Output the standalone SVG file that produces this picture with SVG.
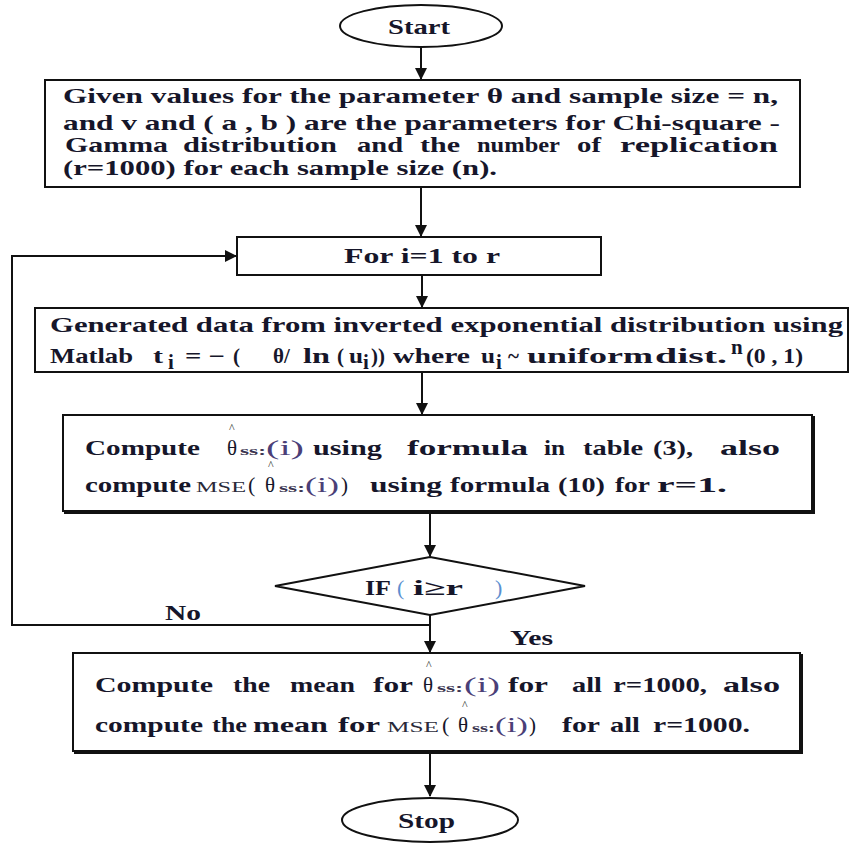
<svg xmlns="http://www.w3.org/2000/svg" width="852" height="845" viewBox="0 0 852 845">
<defs>
<style>
.t{font-family:"Liberation Serif","Times New Roman",serif;font-weight:bold;font-size:21px;fill:#16162a}
.n{font-family:"Liberation Serif","Times New Roman",serif;font-weight:normal;fill:#16162a}
.sub{font-family:"Liberation Serif",serif;font-weight:bold;font-size:13px;fill:#3a3550}
.pi{font-family:"Liberation Serif",serif;font-weight:normal;font-size:20px;fill:#4b3f78}
.hat{font-family:"Liberation Serif",serif;font-size:12px;fill:#333}
.msc{font-family:"Liberation Serif",serif;font-weight:normal;font-size:15px;fill:#2a2a3a}
.bl{font-family:"Liberation Serif",serif;font-weight:normal;font-size:22px;fill:#5b8fd0}
.box{fill:#fff;stroke:#111;stroke-width:2}
.ln{fill:none;stroke:#111;stroke-width:2}
</style>
<marker id="ah" markerUnits="userSpaceOnUse" markerWidth="12" markerHeight="12" refX="11" refY="6" orient="auto">
<path d="M0,0 L12,6 L0,12 z" fill="#111"/>
</marker>
</defs>

<g id="connectors">
<path class="ln" d="M421,47 V79" marker-end="url(#ah)"/>
<path class="ln" d="M421,187 V236" marker-end="url(#ah)"/>
<path class="ln" d="M422,275 V307" marker-end="url(#ah)"/>
<path class="ln" d="M422,372 V414" marker-end="url(#ah)"/>
<path class="ln" d="M430,511 V556" marker-end="url(#ah)"/>
<path class="ln" d="M430,615 V652" marker-end="url(#ah)"/>
<path class="ln" d="M430,625 H12 V256 H236" marker-end="url(#ah)"/>
<path class="ln" d="M430,751 V796" marker-end="url(#ah)"/>
<text class="t" x="165" y="620" textLength="36" lengthAdjust="spacingAndGlyphs">No</text>
<text class="t" x="510" y="645" textLength="43" lengthAdjust="spacingAndGlyphs">Yes</text>
</g>

<g id="start">
<ellipse class="box" cx="421" cy="26" rx="81" ry="21"/>
<text class="t" x="388" y="34" textLength="62" lengthAdjust="spacingAndGlyphs">Start</text>
</g>

<g id="init">
<rect class="box" x="45" y="80" width="755" height="107"/>
<text class="t" x="63" y="103" textLength="715" lengthAdjust="spacingAndGlyphs">Given values for the parameter θ  and sample size = n,</text>
<text class="t" x="63" y="130" textLength="717" lengthAdjust="spacingAndGlyphs">and v and ( a , b ) are the parameters for Chi-square -</text>
<text class="t" x="65" y="152" font-size="20" textLength="103" lengthAdjust="spacingAndGlyphs">Gamma</text>
<text class="t" x="183" y="152" font-size="20" textLength="154" lengthAdjust="spacingAndGlyphs">distribution</text>
<text class="t" x="357" y="152" font-size="20" textLength="46" lengthAdjust="spacingAndGlyphs">and</text>
<text class="t" x="420" y="152" font-size="20" textLength="40" lengthAdjust="spacingAndGlyphs">the</text>
<text class="t" x="477" y="152" font-size="20" textLength="83" lengthAdjust="spacingAndGlyphs">number</text>
<text class="t" x="577" y="152" font-size="20" textLength="24" lengthAdjust="spacingAndGlyphs">of</text>
<text class="t" x="620" y="152" font-size="20" textLength="158" lengthAdjust="spacingAndGlyphs">replication</text>
<text class="t" x="63" y="175" font-size="20" textLength="434" lengthAdjust="spacingAndGlyphs">(r=1000) for each sample size (n).</text>
</g>

<g id="loop">
<rect class="box" x="237" y="237" width="364" height="38"/>
<text class="t" x="344" y="263" textLength="156" lengthAdjust="spacingAndGlyphs">For i=1 to r</text>
</g>

<g id="generate">
<rect class="box" x="35" y="308" width="813" height="64"/>
<text class="t" x="50" y="332" textLength="793" lengthAdjust="spacingAndGlyphs">Generated data from inverted exponential distribution using</text>
<text class="t" x="50" y="363" textLength="83" lengthAdjust="spacingAndGlyphs">Matlab</text>
<text class="t" x="153" y="363" textLength="10" lengthAdjust="spacingAndGlyphs">t</text>
<text class="t" x="168" y="369" font-size="14">i</text>
<text class="t" x="185" y="363" textLength="40" lengthAdjust="spacingAndGlyphs">= −</text>
<text class="t" x="233" y="363">(</text>
<text class="t" x="273" y="363">θ/</text>
<text class="t" x="303" y="363" textLength="27" lengthAdjust="spacingAndGlyphs">ln</text>
<text class="t" x="337" y="363">(</text>
<text class="t" x="349" y="363" textLength="14" lengthAdjust="spacingAndGlyphs">u</text>
<text class="t" x="363" y="369" font-size="14">i</text>
<text class="t" x="371" y="363">))</text>
<text class="t" x="393" y="363" textLength="77" lengthAdjust="spacingAndGlyphs">where</text>
<text class="t" x="481" y="363" textLength="14" lengthAdjust="spacingAndGlyphs">u</text>
<text class="t" x="496" y="369" font-size="13">i</text>
<text class="t" x="508" y="363">~</text>
<text class="t" x="527" y="363" textLength="126" lengthAdjust="spacingAndGlyphs">uniform</text>
<text class="t" x="655" y="363" textLength="72" lengthAdjust="spacingAndGlyphs">dist.</text>
<text class="t" x="731" y="354" font-size="17">n</text>
<text class="t" x="746" y="363" textLength="57" lengthAdjust="spacingAndGlyphs">(0 , 1)</text>
</g>

<g id="compute">
<rect class="box" x="63" y="415" width="749" height="96"/>
<path class="ln" d="M814,416 V513 H64" stroke-width="1.5"/>
<text class="t" x="85" y="455" textLength="115" lengthAdjust="spacingAndGlyphs">Compute</text>
<text class="hat" x="229" y="432">^</text>
<text class="n" x="227" y="455" font-size="21">θ</text>
<text class="sub" x="240" y="455" textLength="26" lengthAdjust="spacingAndGlyphs">ss:</text>
<text class="pi" x="266" y="455" textLength="38" lengthAdjust="spacingAndGlyphs">(i)</text>
<text class="t" x="313" y="455" textLength="69" lengthAdjust="spacingAndGlyphs">using</text>
<text class="t" x="407" y="455" textLength="121" lengthAdjust="spacingAndGlyphs">formula</text>
<text class="t" x="544" y="455" textLength="21" lengthAdjust="spacingAndGlyphs">in</text>
<text class="t" x="583" y="455" textLength="60" lengthAdjust="spacingAndGlyphs">table</text>
<text class="t" x="653" y="455" textLength="40" lengthAdjust="spacingAndGlyphs">(3),</text>
<text class="t" x="720" y="455" textLength="60" lengthAdjust="spacingAndGlyphs">also</text>
<text class="t" x="85" y="492" textLength="106" lengthAdjust="spacingAndGlyphs">compute</text>
<text class="msc" x="196" y="492" textLength="50" lengthAdjust="spacingAndGlyphs">MSE</text>
<text class="n" x="248" y="492" font-size="22">(</text>
<text class="hat" x="268" y="469">^</text>
<text class="n" x="265" y="492" font-size="21">θ</text>
<text class="sub" x="279" y="492" textLength="26" lengthAdjust="spacingAndGlyphs">ss:</text>
<text class="pi" x="305" y="492" textLength="34" lengthAdjust="spacingAndGlyphs">(i)</text>
<text class="n" x="341" y="492" font-size="21">)</text>
<text class="t" x="370" y="492" textLength="72" lengthAdjust="spacingAndGlyphs">using</text>
<text class="t" x="450" y="492" textLength="100" lengthAdjust="spacingAndGlyphs">formula</text>
<text class="t" x="558" y="492" textLength="47" lengthAdjust="spacingAndGlyphs">(10)</text>
<text class="t" x="615" y="492" textLength="35" lengthAdjust="spacingAndGlyphs">for</text>
<text class="t" x="657" y="492" textLength="70" lengthAdjust="spacingAndGlyphs">r=1.</text>
</g>

<g id="decision">
<polygon class="box" points="430,557 585,586 430,615 275,586"/>
<text class="t" x="365" y="595" textLength="26" lengthAdjust="spacingAndGlyphs">IF</text>
<text class="bl" x="397" y="595">(</text>
<text class="t" x="413" y="595" textLength="50" lengthAdjust="spacingAndGlyphs">i≥r</text>
<text class="bl" x="495" y="595">)</text>
</g>

<g id="mean">
<rect class="box" x="73" y="653" width="727" height="98"/>
<path class="ln" d="M802,654 V753 H74" stroke-width="1.5"/>
<text class="t" x="95" y="692" textLength="118" lengthAdjust="spacingAndGlyphs">Compute</text>
<text class="t" x="233" y="692" textLength="37" lengthAdjust="spacingAndGlyphs">the</text>
<text class="t" x="290" y="692" textLength="65" lengthAdjust="spacingAndGlyphs">mean</text>
<text class="t" x="373" y="692" textLength="40" lengthAdjust="spacingAndGlyphs">for</text>
<text class="hat" x="426" y="669">^</text>
<text class="n" x="423" y="692" font-size="21">θ</text>
<text class="sub" x="437" y="692" textLength="26" lengthAdjust="spacingAndGlyphs">ss:</text>
<text class="pi" x="464" y="692" textLength="36" lengthAdjust="spacingAndGlyphs">(i)</text>
<text class="t" x="508" y="692" textLength="40" lengthAdjust="spacingAndGlyphs">for</text>
<text class="t" x="572" y="692" textLength="30" lengthAdjust="spacingAndGlyphs">all</text>
<text class="t" x="613" y="692" textLength="94" lengthAdjust="spacingAndGlyphs">r=1000,</text>
<text class="t" x="723" y="692" textLength="57" lengthAdjust="spacingAndGlyphs">also</text>
<text class="t" x="95" y="732" textLength="108" lengthAdjust="spacingAndGlyphs">compute</text>
<text class="t" x="212" y="732" textLength="35" lengthAdjust="spacingAndGlyphs">the</text>
<text class="t" x="253" y="732" textLength="75" lengthAdjust="spacingAndGlyphs">mean</text>
<text class="t" x="338" y="732" textLength="42" lengthAdjust="spacingAndGlyphs">for</text>
<text class="msc" x="387" y="732" textLength="52" lengthAdjust="spacingAndGlyphs">MSE</text>
<text class="n" x="442" y="732" font-size="22">(</text>
<text class="hat" x="462" y="709">^</text>
<text class="n" x="458" y="732" font-size="21">θ</text>
<text class="sub" x="472" y="732" textLength="23" lengthAdjust="spacingAndGlyphs">ss:</text>
<text class="pi" x="495" y="732" textLength="33" lengthAdjust="spacingAndGlyphs">(i)</text>
<text class="n" x="529" y="732" font-size="21">)</text>
<text class="t" x="562" y="732" textLength="38" lengthAdjust="spacingAndGlyphs">for</text>
<text class="t" x="610" y="732" textLength="30" lengthAdjust="spacingAndGlyphs">all</text>
<text class="t" x="653" y="732" textLength="97" lengthAdjust="spacingAndGlyphs">r=1000.</text>
</g>

<g id="stop">
<ellipse class="box" cx="430" cy="820" rx="88" ry="22"/>
<text class="t" x="398" y="828" textLength="57" lengthAdjust="spacingAndGlyphs">Stop</text>
</g>
</svg>
